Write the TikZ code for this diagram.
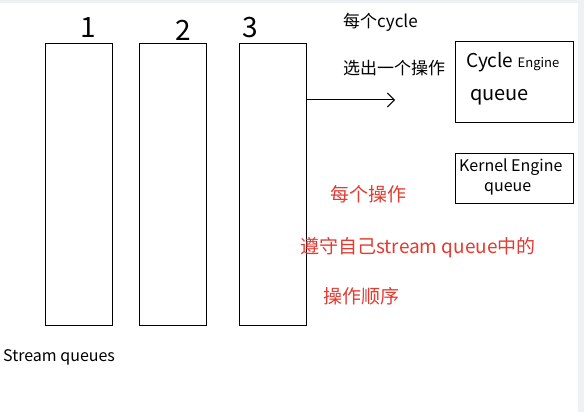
\documentclass[tikz,border=0pt]{standalone}
\usepackage{fontspec}
\setmainfont{Noto Sans CJK SC}
\usepackage{xcolor}
\usetikzlibrary{positioning,arrows.meta}
\definecolor{penred}{RGB}{228,58,48}
\definecolor{framegray}{RGB}{238,240,243}

\begin{document}
\begin{tikzpicture}[x=1pt,y=-1pt,
    queuebox/.style={draw, line width=1pt, minimum width=67pt, minimum height=281pt, inner sep=0pt},
    enginebox/.style={draw, line width=1pt, minimum width=118pt, inner sep=0pt},
    note/.style={inner sep=0pt, anchor=west}]
        \useasboundingbox (0,0) rectangle (584,412);
        % Screen frame
        \fill[framegray] (0,0) rectangle (584,3);
        \fill[framegray] (578,0) rectangle (584,412);

        % Stream queues
        \node[queuebox] (q1) at (78.5,184.5) {};
        \node[queuebox] (q2) at (173,184.5) {};
        \node[queuebox] (q3) at (272.5,184.5) {};
        \node[inner sep=0pt] (n1) at (88,28) {\fontsize{28}{30}\selectfont 1};
        \node[inner sep=0pt] (n2) at (183,30) {\fontsize{28}{30}\selectfont 2};
        \node[inner sep=0pt] (n3) at (250,28) {\fontsize{28}{30}\selectfont 3};
        \node[note] (sq) at (3,357) {\fontsize{16}{18}\selectfont Stream queues};

        % Engine queues
        \node[enginebox, minimum height=80pt] (ceq) at (514,82) {};
        \node[note] (ceqa) at (466,62) {\fontsize{19}{21}\selectfont Cycle {\fontsize{13}{14}\selectfont Engine}};
        \node[note] (ceqb) at (470,97) {\fontsize{20}{22}\selectfont queue};
        \node[enginebox, minimum height=50pt] (keq) at (514,178) {};
        \node[note] (keqa) at (459,167) {\fontsize{16}{17}\selectfont Kernel Engine};
        \node[note] (keqb) at (484,189) {\fontsize{16}{17}\selectfont queue};

        % Pick one op per cycle
        \coordinate (tip) at (395,100);
        \draw[-{Straight Barb[length=7pt,width=14pt]}, line width=1pt] (q3.east |- tip) -- (tip);
        \node[note] (pick1) at (343,22) {\fontsize{17}{19}\selectfont 每个cycle};
        \node[note] (pick2) at (343,68) {\fontsize{17}{19}\selectfont 选出一个操作};

        % Order rule
        \node[note, text=penred] (rule1) at (330,194) {\fontsize{19}{21}\selectfont 每个操作};
        \node[note, text=penred] (rule2) at (300,248) {\fontsize{19}{21}\selectfont 遵守自己stream queue中的};
        \node[note, text=penred] (rule3) at (323,296) {\fontsize{19}{21}\selectfont 操作顺序};
    \end{tikzpicture}
\end{document}
